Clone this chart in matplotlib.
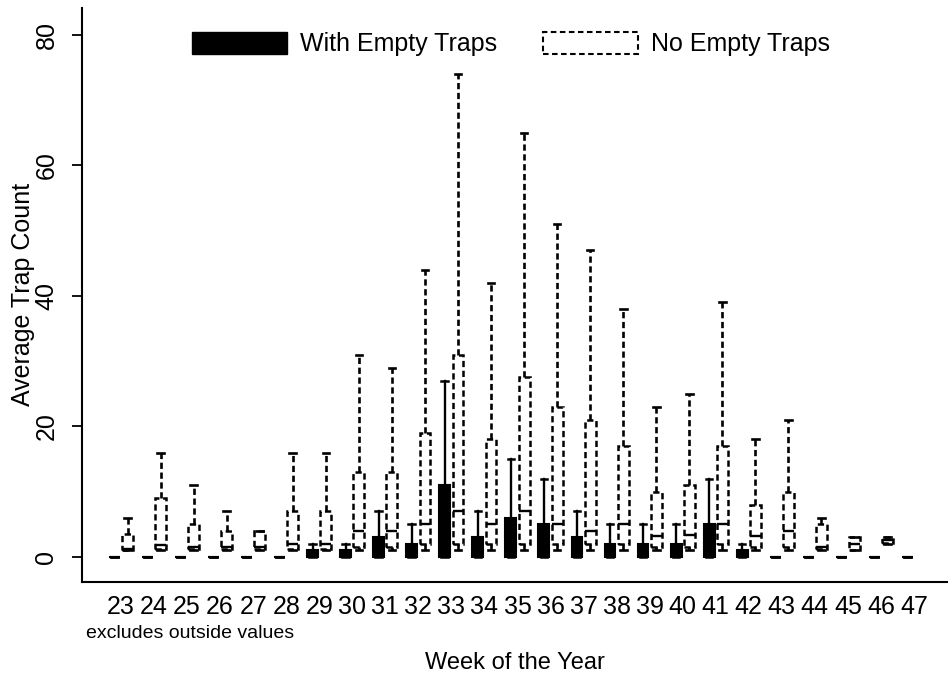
import numpy as np
import matplotlib
matplotlib.use("Agg")
import matplotlib.pyplot as plt
from matplotlib.patches import Patch

plt.rcParams['font.family'] = ['Liberation Sans', 'DejaVu Sans']
plt.rcParams['lines.scale_dashes'] = False

weeks = list(range(23, 48))

# "With Empty Traps" box stats per week
with_lo = [0] * 25
with_q1 = [0] * 25
with_med = [0, 0, 0, 0, 0, 0, 0, 0, 1, 1, 4, 1, 2, 2, 1, 1, 1, 1, 2, 0, 0, 0, 0, 0, 0]
with_q3 = [0, 0, 0, 0, 0, 0, 1, 1, 3, 2, 11, 3, 6, 5, 3, 2, 2, 2, 5, 1, 0, 0, 0, 0, 0]
with_hi = [0, 0, 0, 0, 0, 0, 2, 2, 7, 5, 27, 7, 15, 12, 7, 5, 5, 5, 12, 2, 0, 0, 0, 0, 0]

# "No Empty Traps" box stats per week (week 47 has none)
no_lo = [1, 1, 1, 1, 1, 1, 1, 1, 1, 1, 1, 1, 1, 1, 1, 1, 1, 1, 1, 1, 1, 1, 1, 2, np.nan]
no_q1 = [1, 1.3, 1.3, 1.3, 1.3, 1.3, 1.3, 1.5, 1.6, 2, 2, 2, 2, 2, 2, 2, 1.5, 1.5, 2, 1.5, 1.5, 1.3, 1, 2.2, np.nan]
no_med = [1.3, 1.8, 1.5, 1.5, 1.5, 2, 2, 4, 4, 5, 7, 5, 7, 5, 4, 5, 3.2, 3.4, 5, 3.2, 4, 1.6, 2, 2.6, np.nan]
no_q3 = [3.5, 9, 5, 4, 4, 7, 7, 13, 13, 19, 31, 18, 27.5, 23, 21, 17, 10, 11, 17, 8, 10, 5, 3, 3, np.nan]
no_hi = [6, 16, 11, 7, 4, 16, 16, 31, 29, 44, 74, 42, 65, 51, 47, 38, 23, 25, 39, 18, 21, 6, 3, 3, np.nan]

fig = plt.figure(figsize=(9.48, 6.82), dpi=100)
ax = fig.add_axes([0.0865, 0.1466, 0.9135, 0.842])

with_stats = []
for i, w in enumerate(weeks):
    with_stats.append(dict(whislo=with_lo[i], q1=with_q1[i], med=with_med[i],
                           q3=with_q3[i], whishi=with_hi[i], fliers=[]))
no_stats, no_pos = [], []
for i, w in enumerate(weeks):
    if np.isnan(no_hi[i]):
        continue
    no_stats.append(dict(whislo=no_lo[i], q1=no_q1[i], med=no_med[i],
                         q3=no_q3[i], whishi=no_hi[i], fliers=[]))
    no_pos.append(w + 0.2)

dash = (0, (4.5, 2.6))

ax.bxp(with_stats, positions=[w - 0.2 for w in weeks], widths=0.33,
       capwidths=0.2, patch_artist=True, showfliers=False, manage_ticks=False,
       boxprops=dict(facecolor='black', edgecolor='black', linewidth=1.5),
       whiskerprops=dict(color='black', linewidth=1.7),
       capprops=dict(color='black', linewidth=1.8),
       medianprops=dict(color='black', linewidth=1.5))

ax.bxp(no_stats, positions=no_pos, widths=0.33,
       capwidths=0.2, patch_artist=True, showfliers=False, manage_ticks=False,
       boxprops=dict(facecolor='white', edgecolor='black', linewidth=1.8, linestyle=dash),
       whiskerprops=dict(color='black', linewidth=1.9, linestyle=dash),
       capprops=dict(color='black', linewidth=1.9),
       medianprops=dict(color='black', linewidth=1.7))

ax.set_xlim(21.82, 48.03)
ax.set_ylim(-3.83, 84.1)
ax.set_xticks(weeks)
ax.set_xticklabels([str(w) for w in weeks], fontsize=18)
ax.tick_params(axis='x', length=0, pad=9)
ax.set_yticks([0, 20, 40, 60, 80])
ax.set_yticklabels(['0', '20', '40', '60', '80'], fontsize=18, rotation=90, va='center')
ax.tick_params(axis='y', length=7, width=1.3, pad=10)

for s in ['top', 'right']:
    ax.spines[s].set_visible(False)
for s in ['left', 'bottom']:
    ax.spines[s].set_linewidth(1.5)

ax.set_ylabel('Average Trap Count', fontsize=18, va='center')
ax.yaxis.set_label_coords(-0.068, 0.5)
ax.set_xlabel('Week of the Year', fontsize=17, va='center')
ax.xaxis.set_label_coords(0.5, -0.141)
fig.text(86 / 948, 1 - 633 / 682, 'excludes outside values', fontsize=14,
         ha='left', va='center')

handles = [Patch(facecolor='black', edgecolor='black'),
           Patch(facecolor='white', edgecolor='black', linestyle=(0, (4, 2.5)), linewidth=1.5)]
fig.legend(handles, ['With Empty Traps', 'No Empty Traps'], loc='upper center',
           bbox_to_anchor=(511 / 948, 1 - 9 / 682), ncol=2, frameon=False,
           fontsize=18, handlelength=3.8, handleheight=1.0, handletextpad=0.55,
           columnspacing=1.8)

fig.savefig('out.png', dpi=100)
